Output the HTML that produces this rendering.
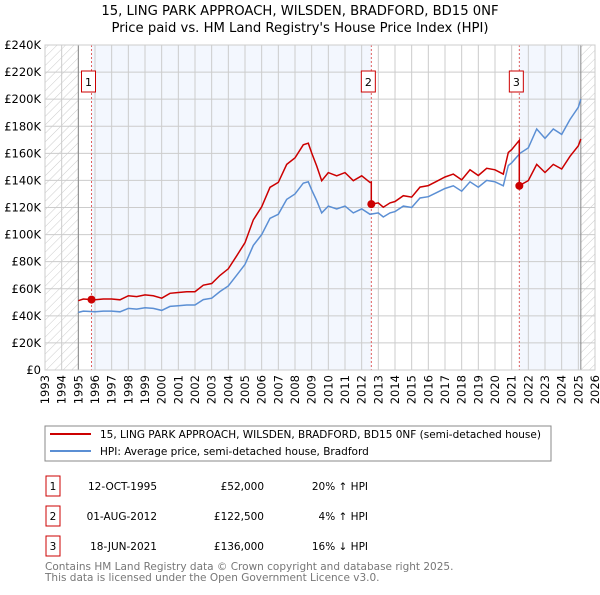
<!DOCTYPE html>
<html><head><meta charset="utf-8"><style>
body{margin:0;background:#fff;}
svg text{font-family:"DejaVu Sans","Liberation Sans",sans-serif;}
</style></head><body>
<svg id="c" width="600" height="590" xmlns="http://www.w3.org/2000/svg">
<defs><pattern id="hatch" width="6" height="6" patternUnits="userSpaceOnUse" patternTransform="rotate(45)"><line x1="0" y1="0" x2="0" y2="6" stroke="#ccc" stroke-width="1"/></pattern></defs>
<text x="300" y="15" text-anchor="middle" font-size="13.2" fill="#000">15, LING PARK APPROACH, WILSDEN, BRADFORD, BD15 0NF</text>
<text x="300" y="32" text-anchor="middle" font-size="13.2" fill="#000">Price paid vs. HM Land Registry's House Price Index (HPI)</text>
<g id="plot"></g>
<rect x="45" y="426" width="506" height="35" fill="#fff" stroke="#888"/>
<line x1="50" y1="434" x2="91" y2="434" stroke="#cc0000" stroke-width="2"/>
<text x="100" y="438" font-size="10.5">15, LING PARK APPROACH, WILSDEN, BRADFORD, BD15 0NF (semi-detached house)</text>
<line x1="50" y1="451" x2="91" y2="451" stroke="#5b8fd4" stroke-width="2"/>
<text x="100" y="455" font-size="10.5">HPI: Average price, semi-detached house, Bradford</text>
<g id="table" font-size="10.5"></g>
<text x="45" y="570" font-size="10.5" fill="#777">Contains HM Land Registry data © Crown copyright and database right 2025.</text>
<text x="45" y="581" font-size="10.5" fill="#777">This data is licensed under the Open Government Licence v3.0.</text>
</svg>
<script>
const yTicks=[0,20,40,60,80,100,120,140,160,180,200,220,240];
const years=[1993,1994,1995,1996,1997,1998,1999,2000,2001,2002,2003,2004,2005,2006,2007,2008,2009,2010,2011,2012,2013,2014,2015,2016,2017,2018,2019,2020,2021,2022,2023,2024,2025,2026];
const hpiT=[1995.0,1995.3,1995.6,1996.0,1996.5,1997.0,1997.5,1998.0,1998.5,1999.0,1999.5,2000.0,2000.5,2001.0,2001.5,2002.0,2002.5,2003.0,2003.5,2004.0,2004.5,2005.0,2005.5,2006.0,2006.5,2007.0,2007.5,2008.0,2008.5,2008.8,2009.0,2009.3,2009.6,2010.0,2010.5,2011.0,2011.5,2012.0,2012.5,2013.0,2013.3,2013.7,2014.0,2014.5,2015.0,2015.5,2016.0,2016.5,2017.0,2017.5,2018.0,2018.5,2019.0,2019.5,2020.0,2020.5,2020.8,2021.0,2021.5,2022.0,2022.5,2023.0,2023.5,2024.0,2024.5,2025.0,2025.15];
const hpiV=[42.5,43.5,43.3,43,43.5,43.5,43,45.5,45,46,45.5,44,47,47.5,48,48,52,53,58,62,70,78,92,100,112,115,126,130,138,139,133,125,116,121,119,121,116,119,115,116,113,116,117,121,120,127,128,131,134,136,132,139,135,140,139,136,151,153,160,164,178,171,178,174,185,194,200];
const saleT=[1995.79,2012.58,2021.46];
const saleV=[52,122.5,136];
const saleLabels=["1","2","3"];
const saleDates=["12-OCT-1995","01-AUG-2012","18-JUN-2021"];
const salePrices=["£52,000","£122,500","£136,000"];
const saleHpi=["20% ↑ HPI","4% ↑ HPI","16% ↓ HPI"];
const NS="http://www.w3.org/2000/svg";
const X0=45,X1=595,Y0=370,Y1=45;
const x=t=>X0+(t-1993)/(2026-1993)*(X1-X0);
const y=v=>Y0-v/240*(Y0-Y1);
const plot=document.getElementById('plot');
function mk(tag,attrs,parent){const e=document.createElementNS(NS,tag);for(const k in attrs)e.setAttribute(k,attrs[k]);(parent||plot).appendChild(e);return e;}
function interp(t){for(let i=0;i<hpiT.length-1;i++){if(t<=hpiT[i+1]){const f=(t-hpiT[i])/(hpiT[i+1]-hpiT[i]);return hpiV[i]+f*(hpiV[i+1]-hpiV[i]);}}return hpiV[hpiV.length-1];}
let e;
e=mk('rect',{x:X0,y:Y1,width:X1-X0,height:Y0-Y1,fill:'#fff'});


e=mk('rect',{x:x(saleT[0]),y:Y1,width:x(saleT[1])-x(saleT[0]),height:Y0-Y1,fill:'#f3f7fe'});


e=mk('rect',{x:x(saleT[2]),y:Y1,width:x(2025.15)-x(saleT[2]),height:Y0-Y1,fill:'#f3f7fe'});


e=mk('rect',{x:X0,y:Y1,width:x(1995)-X0,height:Y0-Y1,fill:'url(#hatch)'});


e=mk('rect',{x:x(2025.15),y:Y1,width:X1-x(2025.15),height:Y0-Y1,fill:'url(#hatch)'});


yTicks.forEach(v=>{
 e=mk('line',{x1:X0,x2:X1,y1:y(v),y2:y(v),stroke:'#ccc','stroke-width':1});
 
 
 e=mk('text',{x:X0-4,y:y(v)+4,'text-anchor':'end','font-size':11.5});
 e.textContent=v===0?'£0':'£'+v+'K';
 
 
});
years.forEach(yr=>{
 e=mk('line',{x1:x(yr),x2:x(yr),y1:Y1,y2:Y0,stroke:'#ccc','stroke-width':1});
 
 
 e=mk('text',{x:0,y:0,'font-size':11.5,'text-anchor':'end',transform:`translate(${x(yr)+4},${Y0+5}) rotate(-90)`});
 e.textContent=yr;
 
 
});
[1995,2025.15].forEach(t=>{
 e=mk('line',{x1:x(t),x2:x(t),y1:Y1,y2:Y0,stroke:'#888','stroke-width':1});
 
 
});
saleT.forEach((t,i)=>{
 e=mk('line',{x1:x(t),x2:x(t),y1:Y1,y2:Y0,stroke:'#e06060','stroke-width':1,'stroke-dasharray':'2,2'});
 
 
 e=mk('rect',{x:x(t)-10,y:71,width:14,height:21,fill:'#fff',stroke:'#cc0000'});
 
 
 e=mk('text',{x:x(t)-3,y:86,'text-anchor':'middle','font-size':11});
 e.textContent=saleLabels[i];
 
 
});
let hp=hpiT.map((t,i)=>x(t).toFixed(1)+','+y(hpiV[i]).toFixed(1)).join(' ');
e=mk('polyline',{points:hp,fill:'none',stroke:'#5b8fd4','stroke-width':1.5});


let pts=[];
hpiT.forEach((t,i)=>{
 let k=0;for(let j=0;j<saleT.length;j++)if(t>=saleT[j])k=j;
 if(t>=saleT[k]&&i>0&&hpiT[i-1]<saleT[k]){
  const rPrev=k>0?saleV[k-1]/interp(saleT[k-1]):saleV[0]/interp(saleT[0]);
  if(k>0)pts.push([saleT[k],interp(saleT[k])*rPrev]);
  pts.push([saleT[k],saleV[k]]);
 }
 const r=saleV[k]/interp(saleT[k]);
 pts.push([t,hpiV[i]*r]);
});
e=mk('polyline',{points:pts.map(p=>x(p[0]).toFixed(1)+','+y(p[1]).toFixed(1)).join(' '),fill:'none',stroke:'#cc0000','stroke-width':1.5});


saleT.forEach((t,i)=>{
 e=mk('circle',{cx:x(t),cy:y(saleV[i]),r:4,fill:'#cc0000'});
 
 
});
e=mk('rect',{x:X0,y:Y1,width:X1-X0,height:Y0-Y1,fill:'none',stroke:'#ccc'});


const tb=document.getElementById('table');
const rowY=[486,516,546];
saleT.forEach((t,i)=>{
 const ry=rowY[i];
 e=mk('rect',{x:46,y:ry-10,width:14,height:20,fill:'#fff',stroke:'#cc0000'},tb);
 
 
 e=mk('text',{x:53,y:ry+4,'text-anchor':'middle'},tb);e.textContent=saleLabels[i];
 
 
 e=mk('text',{x:157,y:ry+4,'text-anchor':'end'},tb);e.textContent=saleDates[i];
 
 
 e=mk('text',{x:264,y:ry+4,'text-anchor':'end'},tb);e.textContent=salePrices[i];
 
 
 e=mk('text',{x:368,y:ry+4,'text-anchor':'end'},tb);e.textContent=saleHpi[i];
 
 
});
</script>
</body></html>
